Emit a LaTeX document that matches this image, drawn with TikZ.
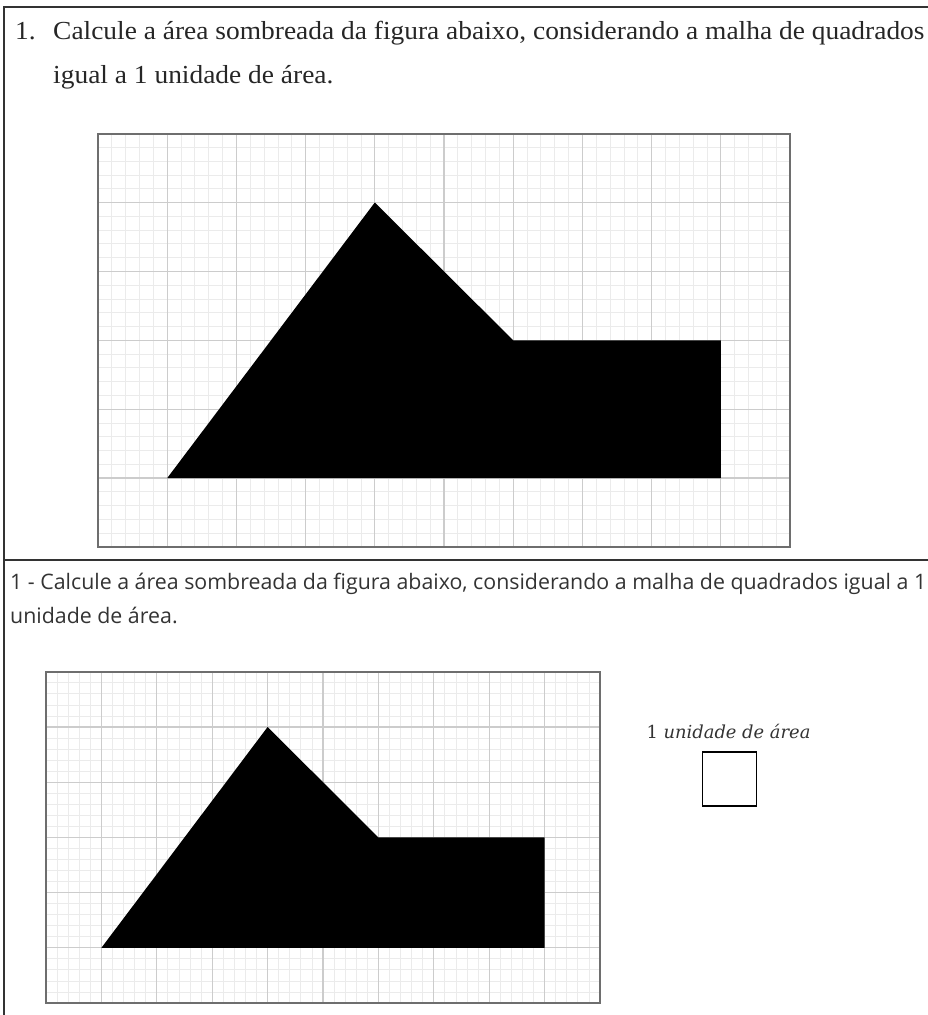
\documentclass[tikz,border=0pt]{standalone}
\usepackage{fontspec}
\setmainfont{Liberation Serif}
\newfontfamily\docsfont{Open Sans}
\newfontfamily\unitfont{DejaVu Serif}
\usetikzlibrary{positioning}

\definecolor{majorgray}{HTML}{CCCCCC}
\definecolor{minorgray}{HTML}{EBEBEB}
\definecolor{framegray}{HTML}{6E6E6E}
\definecolor{inkgray}{HTML}{333333}

\tikzset{
  minorline/.style={minorgray, line width=0.8pt},
  majorline/.style={majorgray, line width=1.3pt},
  gridframe/.style={framegray, line width=2pt},
  shaded/.style={fill=black},
  panelline/.style={inkgray, line width=2pt},
  serifline/.style={anchor=base west, inner sep=0pt, xscale=1.055, text=black!85, font=\fontsize{26}{30}\selectfont},
  sansline/.style={anchor=base west, inner sep=0pt, text=inkgray, font=\docsfont\fontsize{21.35}{25}\selectfont},
}

\begin{document}
\begin{tikzpicture}[x=1pt,y=-1pt]
  \useasboundingbox (0,0) rectangle (928,1015);

  % outer frame and divider
  \coordinate (frameTL) at (4,7);
  \coordinate (frameTR) at (928,7);
  \coordinate (frameBL) at (4,1015);
  \coordinate (divL) at (4,560);
  \coordinate (divR) at (928,560);
  \draw[panelline] (frameBL) -- (frameTL) -- (frameTR);
  \draw[panelline] (divL) -- (divR);

  % top question (print version)
  \node[serifline] (numTop) at (15,39) {1.};
  \node[serifline] (textTopA) at (53,39) {Calcule a área sombreada da figura abaixo, considerando a malha de quadrados};
  \node[serifline] (textTopB) at (53,83) {igual a 1 unidade de área.};

  % top grid
  \begin{scope}[shift={(98,547)}, x=69.2pt, y=68.9pt]
    \foreach \i in {0,...,50} \draw[minorline] (\i/5,0) -- (\i/5,6);
    \foreach \j in {0,...,30} \draw[minorline] (0,\j/5) -- (10,\j/5);
    \foreach \i in {1,...,9} \draw[majorline] (\i,0) -- (\i,6);
    \foreach \j in {1,...,5} \draw[majorline] (0,\j) -- (10,\j);
    \fill[shaded] (1,1) -- (4,5) -- (6,3) -- (9,3) -- (9,1) -- cycle;
    \draw[gridframe] (0,0) rectangle (10,6);
  \end{scope}

  % bottom question (docs version)
  \node[sansline] (textBotA) at (10,589) {1 - Calcule a área sombreada da figura abaixo, considerando a malha de quadrados igual a 1};
  \node[sansline] (textBotB) at (10,623) {unidade de área.};

  % bottom grid
  \begin{scope}[shift={(46,1003)}, x=55.4pt, y=55.2pt]
    \foreach \i in {0,...,50} \draw[minorline] (\i/5,0) -- (\i/5,6);
    \foreach \j in {0,...,30} \draw[minorline] (0,\j/5) -- (10,\j/5);
    \foreach \i in {1,...,9} \draw[majorline] (\i,0) -- (\i,6);
    \foreach \j in {1,...,5} \draw[majorline] (0,\j) -- (10,\j);
    \fill[shaded] (1,1) -- (4,5) -- (6,3) -- (9,3) -- (9,1) -- cycle;
    \draw[gridframe] (0,0) rectangle (10,6);
  \end{scope}

  % unit of area
  \node[anchor=base, inner sep=0pt, text=black!80, font=\unitfont\fontsize{17.9}{22}\selectfont] (unitLabel) at (728.5,738) {1 \textit{unidade de área}};
  \node[draw, line width=1.6pt, minimum size=54pt, inner sep=0pt] (unitSquare) at (729.5,779) {};
\end{tikzpicture}
\end{document}
